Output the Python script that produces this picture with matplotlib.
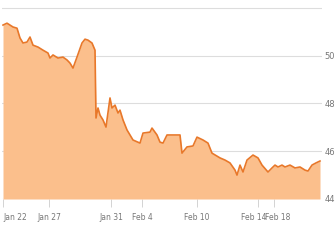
import matplotlib
matplotlib.use("Agg")
import matplotlib.pyplot as plt
from matplotlib import font_manager

# position along the trading session axis and closing price
pos = [3, 7, 13, 17, 20, 23, 27, 30, 33, 38, 43, 48, 50, 53, 58, 63, 67, 70, 73, 77,
       82, 85, 88, 92, 95, 96, 98, 100, 103, 106, 110, 112, 115, 118, 120, 123, 127, 130,
       133, 140, 143, 150, 152, 157, 160, 163, 167, 180, 182, 187, 193, 197, 203, 208,
       212, 220, 225, 230, 235, 237, 240, 243, 247, 253, 258, 262, 268, 272, 275, 278,
       282, 285, 290, 295, 300, 305, 308, 312, 316, 320]
price = [51.28, 51.36, 51.20, 51.15, 50.74, 50.53, 50.57, 50.78, 50.44, 50.36, 50.23,
         50.11, 49.90, 50.03, 49.90, 49.94, 49.82, 49.69, 49.48, 49.94, 50.53, 50.69,
         50.65, 50.53, 50.23, 47.39, 47.81, 47.51, 47.31, 47.01, 48.23, 47.81, 47.93,
         47.60, 47.72, 47.31, 46.89, 46.68, 46.47, 46.34, 46.76, 46.80, 46.97, 46.68,
         46.38, 46.34, 46.68, 46.68, 45.92, 46.18, 46.22, 46.59, 46.47, 46.34, 45.92,
         45.72, 45.63, 45.51, 45.21, 45.00, 45.42, 45.13, 45.63, 45.84, 45.72, 45.42,
         45.13, 45.30, 45.42, 45.34, 45.42, 45.34, 45.42, 45.30, 45.34, 45.21, 45.17,
         45.42, 45.51, 45.59]

tick_pos = [3, 49, 111, 142, 197, 258, 274]
tick_labels = ["Jan 22", "Jan 27", "Jan 31", "Feb 4", "Feb 10", "Feb 14", "Feb 18"]
y_ticks = [44, 46, 48, 50, 52]
y_labels = ["44", "46", "48", "50", ""]

names = {f.name for f in font_manager.fontManager.ttflist}
fam = "Liberation Sans Narrow" if "Liberation Sans Narrow" in names else "DejaVu Sans"
plt.rcParams["font.family"] = [fam, "DejaVu Sans"]

fig = plt.figure(figsize=(3.35, 2.4), dpi=100)
ax = fig.add_axes([2 / 335, 41 / 240, 320 / 335, 199 / 240])

ax.fill_between(pos, price, 44, color="#fbbf8c", lw=0, zorder=2)
ax.plot(pos, price, color="#e8782a", lw=1.2, zorder=3)

ax.set_xlim(2, 322)
ax.set_ylim(44, 52.33)
ax.set_yticks(y_ticks)
ax.set_yticklabels(y_labels)
ax.yaxis.tick_right()
ax.set_xticks(tick_pos)
ax.set_xticklabels([])

# x labels drawn by hand so the crowded Feb 14 / Feb 18 pair can be nudged apart
nudge = [0, 0, 0, 0, 0, -3, 3]
for p, lab, dx in zip(tick_pos, tick_labels, nudge):
    ha = "left" if p == tick_pos[0] else "center"
    ax.annotate(lab, xy=(p, 0), xycoords=("data", "axes fraction"),
                xytext=(dx, -10), textcoords="offset points", ha=ha, va="top",
                fontsize=5.5, color="#777777", annotation_clip=False)

ax.grid(axis="y", color="#dddddd", lw=0.8, zorder=0)
ax.tick_params(axis="y", length=0, pad=2, labelsize=6, labelcolor="#777777")
ax.tick_params(axis="x", length=6, width=0.6, color="#cccccc")
for s in ax.spines.values():
    s.set_visible(False)

fig.savefig("out.png", dpi=100)
